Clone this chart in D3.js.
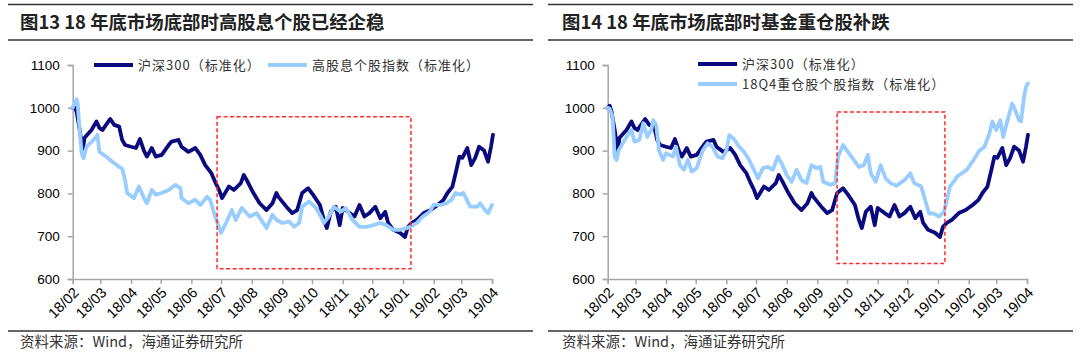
<!DOCTYPE html>
<html>
<head>
<meta charset="utf-8">
<script src="https://cdn.jsdelivr.net/npm/d3@7"></script>
<style>
  body { margin: 0; background: #fff; }
  text { font-family: "Liberation Sans", Arial, sans-serif; }
</style>
</head>
<body>
<svg id="chart" width="1080" height="362"></svg>
<script>
var parse = d3.timeParse("%Y-%m-%d");
var fmt = d3.timeFormat("%y/%m");

// 沪深300 (normalised) - same series in both panels
var hs300Dates = ["2018-02-01","2018-02-03","2018-02-05","2018-02-08","2018-02-11","2018-02-13","2018-02-20","2018-02-25","2018-02-28","2018-03-03","2018-03-11","2018-03-15","2018-03-20","2018-03-23","2018-03-26","2018-04-01","2018-04-06","2018-04-10","2018-04-14","2018-04-17","2018-04-22","2018-04-26","2018-05-02","2018-05-09","2018-05-12","2018-05-19","2018-05-22","2018-05-29","2018-06-05","2018-06-10","2018-06-15","2018-06-21","2018-06-25","2018-06-29","2018-07-02","2018-07-09","2018-07-14","2018-07-21","2018-07-24","2018-07-27","2018-08-02","2018-08-09","2018-08-16","2018-08-22","2018-08-26","2018-08-28","2018-09-05","2018-09-11","2018-09-16","2018-09-21","2018-09-27","2018-10-02","2018-10-09","2018-10-13","2018-10-16","2018-10-20","2018-10-25","2018-10-29","2018-11-01","2018-11-08","2018-11-13","2018-11-18","2018-11-23","2018-11-28","2018-12-04","2018-12-09","2018-12-14","2018-12-17","2018-12-22","2018-12-29","2019-01-03","2019-01-06","2019-01-10","2019-01-15","2019-01-22","2019-01-29","2019-02-05","2019-02-11","2019-02-15","2019-02-20","2019-02-24","2019-02-27","2019-03-02","2019-03-07","2019-03-11","2019-03-15","2019-03-19","2019-03-24","2019-03-28","2019-03-31","2019-04-02"];
var hs300Values = [1000,1005,990,950,900,930,948,968,953,948,974,960,956,925,913,909,906,927,900,886,906,886,890,913,921,925,909,897,906,890,866,848,827,808,789,816,808,824,843,831,804,777,761,777,801,792,769,754,761,801,812,797,773,738,719,757,769,726,766,754,746,773,746,754,769,742,757,731,715,708,698,722,731,738,754,761,773,785,801,816,855,886,883,906,866,883,909,900,874,909,937];

// 高股息个股指数 (normalised)
var highDivDates = ["2018-02-01","2018-02-05","2018-02-06","2018-02-08","2018-02-10","2018-02-12","2018-02-15","2018-02-19","2018-02-25","2018-02-26","2018-02-28","2018-03-07","2018-03-13","2018-03-20","2018-03-23","2018-03-26","2018-03-28","2018-04-04","2018-04-09","2018-04-14","2018-04-17","2018-04-22","2018-04-26","2018-05-02","2018-05-09","2018-05-16","2018-05-21","2018-05-22","2018-05-29","2018-06-05","2018-06-10","2018-06-17","2018-06-20","2018-06-25","2018-07-01","2018-07-06","2018-07-12","2018-07-16","2018-07-22","2018-07-30","2018-08-06","2018-08-16","2018-08-22","2018-08-26","2018-09-01","2018-09-08","2018-09-13","2018-09-18","2018-09-21","2018-09-28","2018-10-05","2018-10-10","2018-10-13","2018-10-18","2018-10-23","2018-10-30","2018-11-04","2018-11-11","2018-11-18","2018-11-25","2018-12-02","2018-12-09","2018-12-15","2018-12-22","2018-12-29","2019-01-05","2019-01-08","2019-01-15","2019-01-21","2019-01-28","2019-02-01","2019-02-08","2019-02-14","2019-02-19","2019-02-23","2019-02-28","2019-03-03","2019-03-10","2019-03-17","2019-03-20","2019-03-25","2019-03-28","2019-04-01"];
var highDivValues = [1000,1020,1010,950,895,882,909,918,932,937,897,886,874,862,858,831,801,789,816,789,777,808,797,801,808,820,812,789,777,785,773,792,785,746,708,731,761,738,766,746,754,719,750,738,731,734,722,731,769,781,766,746,731,746,769,757,766,738,722,722,726,731,726,715,715,719,722,731,746,757,773,773,777,785,801,797,801,769,769,777,761,754,773];

// 18Q4 重仓股个股指数 (normalised)
var heavyDates = ["2018-02-01","2018-02-03","2018-02-06","2018-02-08","2018-02-10","2018-02-12","2018-02-20","2018-02-25","2018-02-28","2018-03-05","2018-03-09","2018-03-13","2018-03-17","2018-03-19","2018-03-22","2018-03-25","2018-03-29","2018-04-01","2018-04-08","2018-04-11","2018-04-15","2018-04-19","2018-04-23","2018-04-27","2018-05-02","2018-05-08","2018-05-13","2018-05-18","2018-05-23","2018-05-28","2018-06-01","2018-06-04","2018-06-08","2018-06-14","2018-06-19","2018-06-24","2018-06-28","2018-07-03","2018-07-08","2018-07-13","2018-07-18","2018-07-23","2018-07-27","2018-08-01","2018-08-06","2018-08-11","2018-08-16","2018-08-21","2018-08-26","2018-08-31","2018-09-04","2018-09-07","2018-09-14","2018-09-19","2018-09-22","2018-09-27","2018-10-01","2018-10-08","2018-10-13","2018-10-18","2018-10-22","2018-10-25","2018-10-30","2018-11-04","2018-11-09","2018-11-14","2018-11-20","2018-11-28","2018-12-04","2018-12-08","2018-12-15","2018-12-18","2018-12-23","2018-12-28","2019-01-02","2019-01-07","2019-01-10","2019-01-13","2019-01-18","2019-01-20","2019-01-30","2019-02-06","2019-02-12","2019-02-17","2019-02-22","2019-02-25","2019-03-01","2019-03-05","2019-03-08","2019-03-12","2019-03-17","2019-03-20","2019-03-24","2019-03-26","2019-03-29","2019-03-31","2019-04-02"];
var heavyValues = [1000,998,979,886,878,900,932,948,921,925,964,932,948,971,960,900,878,894,886,909,866,855,878,851,859,900,917,909,886,882,900,936,929,909,897,878,859,835,859,862,855,886,870,843,827,855,831,824,866,859,862,827,820,824,886,913,900,878,862,866,890,847,827,866,835,824,818,831,847,824,816,792,753,753,746,757,785,816,831,839,855,878,900,909,940,968,948,971,932,968,1010,995,971,968,1026,1049,1057];

var yTicks = [600, 700, 800, 900, 1000, 1100];
var axisStart = "2018-02-01", axisEnd = "2019-04-01";

// highlighted windows: [start date, end date, low value, high value]
var leftBox = ["2018-06-27", "2019-01-09", 624, 979];
var rightBox = ["2018-09-21", "2019-01-08", 636, 990];

var darkColor = "#0a0a7e";
var lightColor = "#99ccff";
var cjk = '"Noto Sans CJK SC", "Liberation Sans", sans-serif';

var svg = d3.select("#chart");

function drawPanel(ox, frame, title, seriesList, legend, box) {
    var g = svg.append("g").attr("transform", "translate(" + ox + ",0)");

    // header / footer rules
    [4.5, 40, 331].forEach(function (yy) {
        g.append("line")
            .attr("x1", frame.ruleX0).attr("x2", frame.ruleX1)
            .attr("y1", yy).attr("y2", yy)
            .attr("stroke", "#333").attr("stroke-width", 1.5);
    });

    g.append("text")
        .attr("x", frame.textX).attr("y", 28.5)
        .style("font-family", cjk)
        .style("font-size", "18.4px")
        .style("font-weight", "bold")
        .attr("fill", "#222")
        .text(title);

    g.append("text")
        .attr("x", frame.textX).attr("y", 346.5)
        .style("font-family", cjk)
        .style("font-size", "14.5px")
        .attr("fill", "#333")
        .text("资料来源：Wind，海通证券研究所");

    var x = d3.scaleTime()
        .domain([parse(axisStart), parse(axisEnd)])
        .range([72.7, 492]);
    var y = d3.scaleLinear()
        .domain([600, 1100])
        .range([279, 65]);

    var yAxis = g.append("g")
        .attr("transform", "translate(" + x.range()[0] + ",0)")
        .call(d3.axisLeft(y).tickValues(yTicks).tickFormat(d3.format("d")).tickSize(5).tickPadding(8));
    var xAxis = g.append("g")
        .attr("transform", "translate(0," + y.range()[0] + ")")
        .call(d3.axisBottom(x).ticks(d3.timeMonth.every(1)).tickFormat(fmt).tickSize(5));

    [yAxis, xAxis].forEach(function (a) {
        a.select(".domain").attr("stroke", "#a6a6a6").attr("stroke-width", 1.5);
        a.selectAll(".tick line").attr("stroke", "#a6a6a6").attr("stroke-width", 1.5);
        a.selectAll("text").attr("fill", "#000")
            .style("font-family", '"Liberation Sans", Arial, sans-serif');
    });
    yAxis.selectAll("text").style("font-size", "13.5px");
    xAxis.selectAll("text")
        .style("font-size", "14.5px")
        .attr("x", 0).attr("y", 0).attr("dy", "0.35em")
        .attr("text-anchor", "end")
        .attr("transform", "translate(3,11) rotate(-45)");

    var line = d3.line()
        .x(function (d) { return x(d.date); })
        .y(function (d) { return y(d.value); });

    seriesList.forEach(function (s) {
        var pts = s.dates.map(function (dd, i) { return { date: parse(dd), value: s.values[i] }; });
        g.append("path")
            .datum(pts)
            .attr("fill", "none")
            .attr("stroke", s.color)
            .attr("stroke-width", 3.8)
            .attr("stroke-linejoin", "round")
            .attr("stroke-linecap", "round")
            .attr("d", line);
    });

    // red dashed window
    g.append("rect")
        .attr("x", x(parse(box[0])))
        .attr("y", y(box[3]))
        .attr("width", x(parse(box[1])) - x(parse(box[0])))
        .attr("height", y(box[2]) - y(box[3]))
        .attr("fill", "none")
        .attr("stroke", "#ff2a2a")
        .attr("stroke-width", 1.5)
        .attr("stroke-dasharray", "4,2.5");

    legend.forEach(function (l) {
        g.append("line")
            .attr("x1", l.x).attr("x2", l.x + 39)
            .attr("y1", l.y).attr("y2", l.y)
            .attr("stroke", l.color).attr("stroke-width", 4);
        g.append("text")
            .attr("x", l.x + 44).attr("y", l.y).attr("dy", "0.35em")
            .style("font-family", cjk)
            .style("font-size", "13px")
            .style("letter-spacing", "1px")
            .attr("fill", "#333")
            .text(l.label);
    });
}

drawPanel(0, { ruleX0: 8, ruleX1: 533, textX: 20 },
    "图13 18 年底市场底部时高股息个股已经企稳",
    [{ dates: hs300Dates, values: hs300Values, color: darkColor },
     { dates: highDivDates, values: highDivValues, color: lightColor }],
    [{ x: 94, y: 65, color: darkColor, label: "沪深300（标准化）" },
     { x: 268, y: 65, color: lightColor, label: "高股息个股指数（标准化）" }],
    leftBox);

drawPanel(535, { ruleX0: 13, ruleX1: 538, textX: 27 },
    "图14 18 年底市场底部时基金重仓股补跌",
    [{ dates: hs300Dates, values: hs300Values, color: darkColor },
     { dates: heavyDates, values: heavyValues, color: lightColor }],
    [{ x: 163, y: 64, color: darkColor, label: "沪深300（标准化）" },
     { x: 163, y: 84, color: lightColor, label: "18Q4重仓股个股指数（标准化）" }],
    rightBox);
</script>
</body>
</html>
